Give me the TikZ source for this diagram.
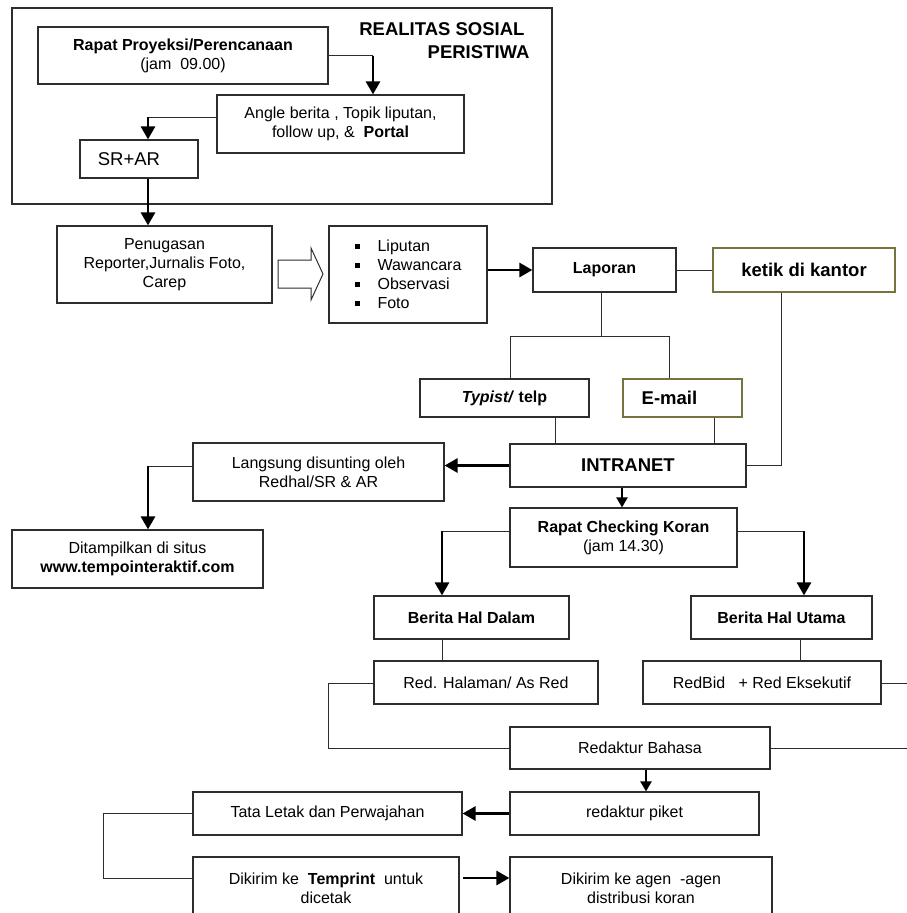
\documentclass[tikz,border=0pt]{standalone}
\usepackage{fontspec}
\setmainfont{Liberation Sans}
\usetikzlibrary{arrows.meta}
\definecolor{ln}{RGB}{45,45,45}
\definecolor{olivebd}{RGB}{118,116,60}
\newcommand\lgfont{\fontsize{18.5}{21}\selectfont}
\tikzset{
  box/.style={draw=ln, line width=1.2pt, fill=white, inner sep=0pt, align=center},
  obox/.style={box, draw=olivebd},
  thinln/.style={draw=ln, line width=1pt},
  thickarr/.style={draw=black, line width=2.8pt, -{Triangle[length=13pt,width=14pt]}},
  smallarr/.style={draw=black, line width=2.2pt, -{Triangle[length=10pt,width=11pt]}},
}
\begin{document}
\begin{tikzpicture}[x=1pt,y=-1pt,font=\fontsize{16}{19}\selectfont]
\useasboundingbox (0,0) rectangle (907,913);
\fill[white] (0,0) rectangle (907,913);
% outer frame
\draw[ln, line width=1.2pt] (12,8) rectangle (552,204);
\node[anchor=east, font=\lgfont\bfseries] (ttl1) at (528,29) {REALITAS SOSIAL};
\node[anchor=east, font=\lgfont\bfseries] (ttl2) at (533,52) {PERISTIWA};
% boxes
\node[box, minimum width=290, minimum height=57] (rp) at (183,55.5) {\textbf{Rapat Proyeksi/Perencanaan}\\(jam\ \ 09.00)};
\node[box, minimum width=247, minimum height=58] (ang) at (340.5,124) {Angle berita , Topik liputan,\\follow up, \&\ \ \textbf{Portal}};
\node[box, minimum width=118, minimum height=38, font=\lgfont] (sr) at (139,159) {SR+AR\hspace{20pt}};
\node[box, minimum width=215, minimum height=77] (pen) at (164.5,264.5) {Penugasan\\Reporter,Jurnalis Foto,\\Carep};
\node[box, minimum width=158, minimum height=97, align=left] (lst) at (408,274.5) {%
\makebox[23pt][l]{\raisebox{3pt}{\rule{5pt}{5pt}}}Liputan\\
\makebox[23pt][l]{\raisebox{3pt}{\rule{5pt}{5pt}}}Wawancara\\
\makebox[23pt][l]{\raisebox{3pt}{\rule{5pt}{5pt}}}Observasi\\
\makebox[23pt][l]{\raisebox{3pt}{\rule{5pt}{5pt}}}Foto\hspace{60pt}};
\node[box, minimum width=143, minimum height=44] (lap) at (604.5,270) {\textbf{Laporan}};
\node[obox, minimum width=182, minimum height=44, font=\lgfont\bfseries] (ket) at (804,270) {ketik di kantor};
\node[box, minimum width=169, minimum height=38] (typ) at (504.5,398) {\textbf{\textit{Typist/} telp}};
\node[obox, minimum width=119, minimum height=38, font=\lgfont\bfseries] (eml) at (682.5,398) {E-mail\hspace{26pt}};
\node[box, minimum width=236, minimum height=43, font=\lgfont\bfseries] (intr) at (628,465.5) {INTRANET};
\node[box, minimum width=251, minimum height=58] (lang) at (318.5,472) {Langsung disunting oleh\\Redhal/SR \& AR};
\node[box, minimum width=251, minimum height=58] (dit) at (137.5,559) {Ditampilkan di situs\\\textbf{www.tempointeraktif.com}};
\node[box, minimum width=227, minimum height=59] (rck) at (623.5,537.5) {\textbf{Rapat Checking Koran}\\(jam 14.30)\hspace{8pt}};
\node[box, minimum width=195, minimum height=43] (dal) at (471.5,617.5) {\textbf{Berita Hal Dalam}};
\node[box, minimum width=181, minimum height=43] (uta) at (781.5,617.5) {\textbf{Berita Hal Utama}};
\node[box, minimum width=224, minimum height=43] (rhal) at (486,682.5) {Red. Halaman/ As Red};
\node[box, minimum width=238, minimum height=43] (rbid) at (762,682.5) {RedBid\ \ \ + Red Eksekutif};
\node[box, minimum width=260, minimum height=42] (rbah) at (640,748) {Redaktur Bahasa};
\node[box, minimum width=249, minimum height=43] (pik) at (634.5,813.5) {redaktur piket};
\node[box, minimum width=269, minimum height=43] (tata) at (327.5,813.5) {Tata Letak dan Perwajahan};
\node[box, minimum width=266, minimum height=63] (tem) at (326,888.5) {Dikirim ke\ \ \textbf{Temprint}\ \ untuk\\dicetak};
\node[box, minimum width=262, minimum height=63] (agen) at (641,888.5) {Dikirim ke agen\ \ -agen\\distribusi koran};
% connectors top
\coordinate (c1) at (373,55.5);
\draw[thinln] (rp.east) -- (c1);
\draw[thickarr] (c1) -- (c1 |- ang.north);
\coordinate (c2) at (148,117);
\draw[thinln] (c2 -| ang.west) -- (c2);
\draw[thickarr] (c2) -- (c2 |- sr.north);
\draw[thickarr] (c2 |- sr.south) -- (c2 |- pen.north);
% block arrow
\draw[ln, line width=1pt, fill=white] (278,260) -- (311,260) -- (311,248) -- (323,274) -- (311,300) -- (311,288) -- (278,288) -- cycle;
\draw[thickarr] (lst.east |- lap.west) -- (lap.west);
\draw[thinln] (lap.east) -- (ket.west);
% laporan split
\coordinate (s1) at (601,336);
\coordinate (s2) at (510,336);
\coordinate (s3) at (669,336);
\draw[thinln] (s1 |- lap.south) -- (s1);
\draw[thinln] (s2 |- typ.north) -- (s2) -- (s3) -- (s3 |- eml.north);
\coordinate (u1) at (555,430);
\coordinate (u2) at (714,430);
\draw[thinln] (u1 |- typ.south) -- (u1 |- intr.north);
\draw[thinln] (u2 |- eml.south) -- (u2 |- intr.north);
\coordinate (k1) at (781,465.5);
\draw[thinln] (k1 |- ket.south) -- (k1) -- (intr.east);
% intranet
\draw[thickarr] (intr.west) -- (intr.west -| lang.east);
\coordinate (i1) at (622,490);
\draw[smallarr] (i1 |- intr.south) -- (i1 |- rck.north);
\coordinate (l1) at (148,466);
\draw[thinln] (l1 -| lang.west) -- (l1);
\draw[thickarr] (l1) -- (l1 |- dit.north);
% rapat checking
\coordinate (r1) at (442,531);
\coordinate (r2) at (804,531);
\draw[thinln] (r1 -| rck.west) -- (r1);
\draw[thickarr] (r1) -- (r1 |- dal.north);
\draw[thinln] (r2 -| rck.east) -- (r2);
\draw[thickarr] (r2) -- (r2 |- uta.north);
\coordinate (d1) at (442,650);
\coordinate (d2) at (800,650);
\draw[thinln] (d1 |- dal.south) -- (d1 |- rhal.north);
\draw[thinln] (d2 |- uta.south) -- (d2 |- rbid.north);
% to redaktur bahasa
\coordinate (h1) at (328,683);
\coordinate (h2) at (328,748);
\draw[thinln] (h1 -| rhal.west) -- (h1) -- (h2) -- (h2 -| rbah.west);
\coordinate (e1) at (907,683);
\coordinate (e2) at (907,748);
\draw[thinln] (e1 -| rbid.east) -- (e1);
\draw[thinln] (rbah.east) -- (e2);
\coordinate (p1) at (646,780);
\draw[smallarr] (p1 |- rbah.south) -- (p1 |- pik.north);
\draw[thickarr] (pik.west) -- (tata.east);
% bottom left
\coordinate (b1) at (103,813.5);
\coordinate (b2) at (103,878);
\draw[thinln] (tata.west) -- (b1) -- (b2) -- (b2 -| tem.west);
\coordinate (g1) at (463,878);
\draw[thickarr] (g1) -- (g1 -| agen.west);
\end{tikzpicture}
\end{document}
